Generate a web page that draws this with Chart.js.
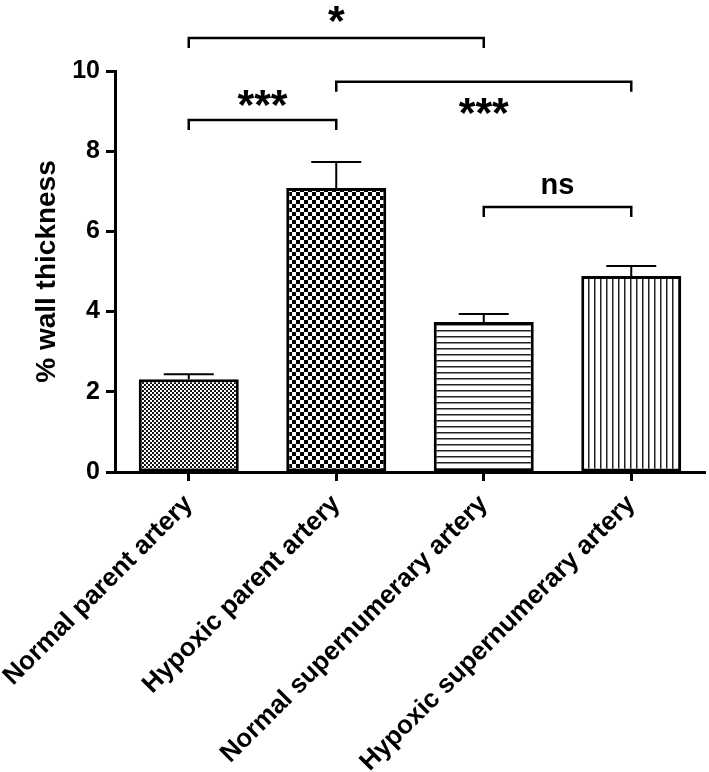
<!DOCTYPE html>
<html>
<head>
<meta charset="utf-8">
<script src="https://cdn.jsdelivr.net/npm/chart.js@4"></script>
<style>
  body { margin: 0; background: #fff; }
  #wrap { width: 709px; height: 772px; }
</style>
</head>
<body>
<div id="wrap"><canvas id="wallChart" width="709" height="772"></canvas></div>
<script>
var groups = ['Normal parent artery', 'Hypoxic parent artery', 'Normal supernumerary artery', 'Hypoxic supernumerary artery'];
var meanThickness = [2.31, 7.08, 3.74, 4.89];
var semThickness = [0.13, 0.65, 0.2, 0.25];
var yTicks = [0, 2, 4, 6, 8, 10];

// significance brackets (group index from / to, height in % units)
var bracketFrom = [0, 0, 1, 2];
var bracketTo = [2, 1, 3, 3];
var bracketLevel = [10.82, 8.78, 9.73, 6.61];
var bracketText = ['*', '***', '***', 'ns'];
var textLevel = [11.2, 9.1, 8.9, 7.12];

const FONT = "'Liberation Sans', Arial, sans-serif";

function makePattern(kind) {
    var c = document.createElement('canvas');
    var ctx = c.getContext('2d');
    if (kind === 'fine') {
        c.width = 4; c.height = 4;
        ctx.fillStyle = '#fff'; ctx.fillRect(0, 0, 4, 4);
        ctx.fillStyle = '#111';
        ctx.fillRect(0, 0, 2, 2); ctx.fillRect(2, 2, 2, 2);
    } else if (kind === 'checker') {
        c.width = 8; c.height = 8;
        ctx.fillStyle = '#fff'; ctx.fillRect(0, 0, 8, 8);
        ctx.fillStyle = '#000';
        ctx.fillRect(0, 0, 4, 4); ctx.fillRect(4, 4, 4, 4);
    } else if (kind === 'hlines') {
        c.width = 6; c.height = 6;
        ctx.fillStyle = '#fff'; ctx.fillRect(0, 0, 6, 6);
        ctx.fillStyle = '#222'; ctx.fillRect(0, 0, 6, 1.5);
    } else {
        c.width = 6; c.height = 6;
        ctx.fillStyle = '#fff'; ctx.fillRect(0, 0, 6, 6);
        ctx.fillStyle = '#222'; ctx.fillRect(0, 0, 1.5, 6);
    }
    return ctx.createPattern(c, 'repeat');
}

var fills = [makePattern('fine'), makePattern('checker'), makePattern('hlines'), makePattern('vlines')];

var annotations = {
    id: 'annotations',
    afterDatasetsDraw(chart) {
        const ctx = chart.ctx;
        const xs = chart.scales.x;
        const ys = chart.scales.y;
        const meta = chart.getDatasetMeta(0);
        ctx.save();
        ctx.strokeStyle = '#000';
        ctx.lineCap = 'butt';

        // error bars (upper only)
        ctx.lineWidth = 2;
        meta.data.forEach(function(bar, i) {
            const top = ys.getPixelForValue(meanThickness[i]);
            const errY = ys.getPixelForValue(meanThickness[i] + semThickness[i]);
            const half = bar.width / 4;
            ctx.beginPath();
            ctx.moveTo(bar.x, top);
            ctx.lineTo(bar.x, errY);
            ctx.moveTo(bar.x - half, errY);
            ctx.lineTo(bar.x + half, errY);
            ctx.stroke();
        });

        // brackets
        ctx.lineWidth = 2.5;
        for (let i = 0; i < bracketText.length; i++) {
            const x1 = xs.getPixelForValue(bracketFrom[i]);
            const x2 = xs.getPixelForValue(bracketTo[i]);
            const y = ys.getPixelForValue(bracketLevel[i]);
            ctx.beginPath();
            ctx.moveTo(x1, y + 10);
            ctx.lineTo(x1, y);
            ctx.lineTo(x2, y);
            ctx.lineTo(x2, y + 10);
            ctx.stroke();

            const isNs = bracketText[i] === 'ns';
            ctx.font = 'bold ' + (isNs ? 29 : 43) + 'px ' + FONT;
            ctx.fillStyle = '#000';
            ctx.textAlign = 'center';
            ctx.textBaseline = 'middle';
            ctx.fillText(bracketText[i], (x1 + x2) / 2, ys.getPixelForValue(textLevel[i]));
        }
        ctx.restore();
    }
};

const ctx = document.getElementById('wallChart').getContext('2d');
new Chart(ctx, {
    type: 'bar',
    data: {
        labels: groups,
        datasets: [{
            data: meanThickness,
            backgroundColor: fills,
            borderColor: '#000',
            borderWidth: 3,
            borderSkipped: false,
            categoryPercentage: 1,
            barPercentage: 0.678
        }]
    },
    options: {
        responsive: false,
        animation: false,
        layout: { padding: { top: 71, right: 4, left: 0, bottom: 0 } },
        plugins: {
            legend: { display: false },
            tooltip: { enabled: false }
        },
        scales: {
            x: {
                afterFit: function(scale) {
                    scale.height = 300;
                    // rotated labels may run off the left edge, like the original
                    scale.paddingLeft = 0;
                    scale.paddingRight = 0;
                },
                grid: { offset: false, drawOnChartArea: false, color: '#000', tickLength: 9, tickWidth: 3 },
                border: { display: true, color: '#000', width: 3 },
                ticks: {
                    color: '#000',
                    font: { family: FONT, size: 26, weight: 'bold' },
                    minRotation: 45,
                    maxRotation: 45,
                    padding: 8
                }
            },
            y: {
                min: 0,
                max: 10,
                afterFit: function(scale) { scale.width = 115; },
                afterBuildTicks: function(scale) {
                    scale.ticks = yTicks.map(v => ({ value: v }));
                },
                grid: { drawOnChartArea: false, color: '#000', tickLength: 9, tickWidth: 3 },
                border: { display: true, color: '#000', width: 3 },
                ticks: {
                    color: '#000',
                    font: { family: FONT, size: 25, weight: 'bold' },
                    padding: 6
                },
                title: {
                    display: true,
                    text: '% wall thickness',
                    color: '#000',
                    font: { family: FONT, size: 28, weight: 'bold' },
                    padding: { top: 30, bottom: 0 }
                }
            }
        }
    },
    plugins: [annotations]
});
</script>
</body>
</html>
